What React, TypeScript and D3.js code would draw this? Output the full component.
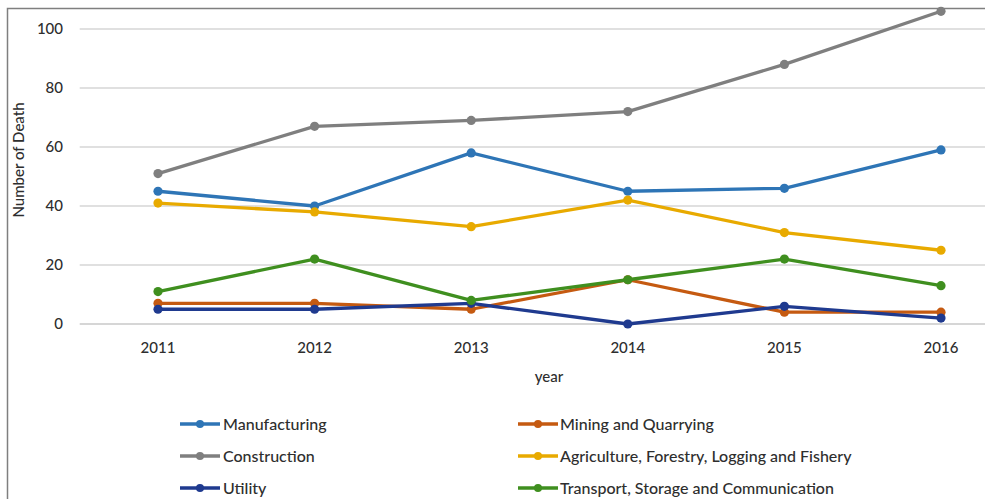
import React from "react";
import * as d3 from "d3";

const years = ["2011", "2012", "2013", "2014", "2015", "2016"];
const manufacturing = [45, 40, 58, 45, 46, 59];
const mining = [7, 7, 5, 15, 4, 4];
const construction = [51, 67, 69, 72, 88, 106];
const agriculture = [41, 38, 33, 42, 31, 25];
const utility = [5, 5, 7, 0, 6, 2];
const transport = [11, 22, 8, 15, 22, 13];
const yTicks = [0, 20, 40, 60, 80, 100];

const series = [
  { name: "Manufacturing", values: manufacturing, color: "#2E75B6" },
  { name: "Mining and Quarrying", values: mining, color: "#C55A11" },
  { name: "Construction", values: construction, color: "#7F7F7F" },
  { name: "Agriculture, Forestry, Logging and Fishery", values: agriculture, color: "#E8AA00" },
  { name: "Utility", values: utility, color: "#1F3A8F" },
  { name: "Transport, Storage and Communication", values: transport, color: "#3F8F1F" },
];

const W = 985;
const H = 499;
const font = "Lato, 'Open Sans', sans-serif";
const textColor = "#2e2e2e";

export default function App() {
  const x = d3.scalePoint<string>().domain(years).range([79.7, 1019.3]).padding(0.5);
  const y = d3.scaleLinear().domain([0, 100]).range([324, 29]);
  const line = d3
    .line<number>()
    .x((_, i) => x(years[i]) as number)
    .y((d) => y(d));

  const legendCols = [
    { lx: 180, tx: 223 },
    { lx: 518, tx: 560 },
  ];
  const legendRows = [424, 456, 488];

  return (
    <svg
      width={W}
      height={H}
      style={{ position: "absolute", left: 0, top: 0, background: "#fff" }}
    >
      <rect x={0} y={0} width={W} height={H} fill="#fff" />
      <rect x={7.5} y={8.5} width={W + 20} height={H + 20} fill="none" stroke="#7f7f7f" strokeWidth={1.5} />
      {yTicks.map((t) => (
        <g key={t}>
          <line x1={79.7} x2={W} y1={y(t)} y2={y(t)} stroke={t === 0 ? "#c8c8c8" : "#d6d6d6"} strokeWidth={1.3} />
          <text x={63} y={y(t)} dy="0.35em" textAnchor="end" fontFamily={font} fontSize={15} fontWeight={500} fill={textColor}>
            {t}
          </text>
        </g>
      ))}
      {years.map((yr) => (
        <text key={yr} x={x(yr)} y={353} textAnchor="middle" fontFamily={font} fontSize={15} fontWeight={500} fill={textColor}>
          {yr}
        </text>
      ))}
      <text
        transform={`translate(24,160) rotate(-90)`}
        textAnchor="middle"
        fontFamily={font}
        fontSize={15}
        fontWeight={500}
        fill={textColor}
      >
        Number of Death
      </text>
      <text x={549} y={382} textAnchor="middle" fontFamily={font} fontSize={15} fontWeight={500} fill={textColor}>
        year
      </text>
      {series.map((s) => (
        <g key={s.name}>
          <path d={line(s.values) || ""} fill="none" stroke={s.color} strokeWidth={3.3} strokeLinejoin="round" />
          {s.values.map((v, i) => (
            <circle key={i} cx={x(years[i])} cy={y(v)} r={4.6} fill={s.color} />
          ))}
        </g>
      ))}
      {series.map((s, i) => {
        const col = legendCols[i % 2];
        const row = legendRows[Math.floor(i / 2)];
        return (
          <g key={"lg" + s.name}>
            <line x1={col.lx} x2={col.lx + 40} y1={row} y2={row} stroke={s.color} strokeWidth={3.3} />
            <circle cx={col.lx + 20} cy={row} r={4} fill={s.color} />
            <text x={col.tx} y={row} dy="0.35em" fontFamily={font} fontSize={16} fontWeight={500} fill={textColor}>
              {s.name}
            </text>
          </g>
        );
      })}
    </svg>
  );
}
